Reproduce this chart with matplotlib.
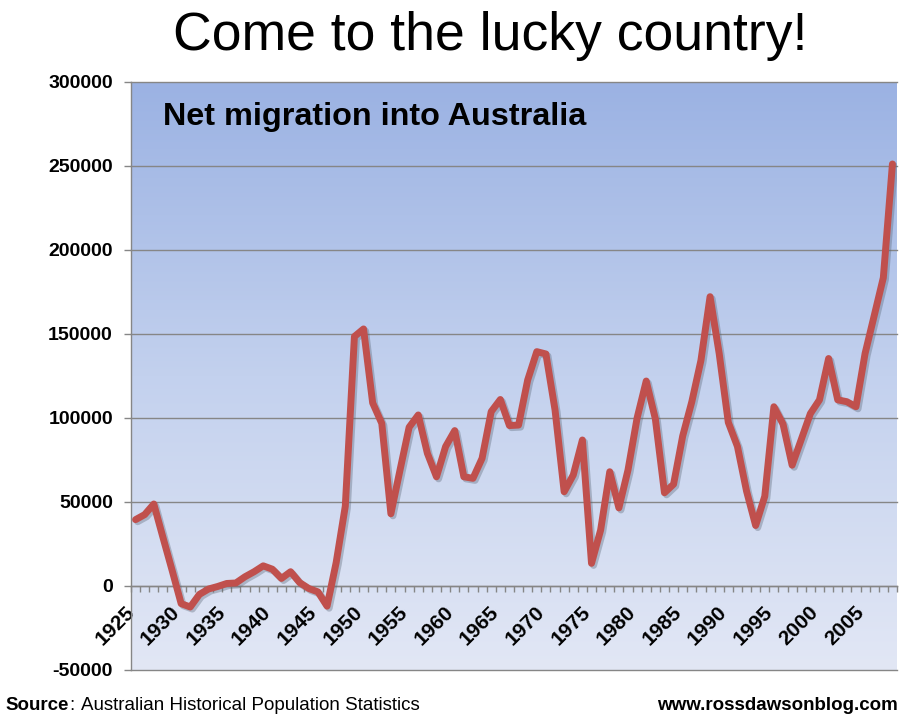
import matplotlib
matplotlib.use("Agg")
import matplotlib.pyplot as plt
import matplotlib.patheffects as pe
import matplotlib.transforms as mtransforms
import numpy as np
from matplotlib.colors import LinearSegmentedColormap

# ---- data ----
years = list(range(1925, 2009))
net_migration = [
    39500, 42500, 48800, 29000, 9500, -10500, -12500, -5000, -1800, -300,
    1500, 1800, 5500, 8500, 12000, 10000, 4500, 8500, 2000, -1500,
    -3500, -12000, 14000, 47500, 148500, 153000, 109000, 96800, 43000, 69000,
    94500, 101800, 79000, 65000, 83000, 92500, 65000, 64100, 76000, 103800,
    111000, 95500, 95800, 122600, 139500, 138100, 104800, 56100, 66100, 86900,
    13500, 33300, 68000, 46500, 69000, 100000, 122000, 99500, 55500, 60600,
    89300, 109700, 134300, 172200, 138400, 97400, 83100, 56500, 36000, 53400,
    106700, 96400, 71900, 87200, 102600, 110800, 135400, 110800, 109700, 106700,
    138400, 160900, 183500, 251200,
]
label_years = list(range(1925, 2006, 5))
y_ticks = list(range(-50000, 300001, 50000))

title = "Come to the lucky country!"
subtitle = "Net migration into Australia"

plt.rcParams['font.family'] = ['Liberation Sans', 'DejaVu Sans']

fig = plt.figure(figsize=(9.11, 7.19), dpi=100)
fig.patch.set_facecolor('white')
ax = fig.add_axes([131/911, 1-670/719, 766/911, 588/719])

x0, x1 = years[0] - 0.5, years[-1] + 0.5
y0, y1 = y_ticks[0], y_ticks[-1]

# gradient background
cmap = LinearSegmentedColormap.from_list('bg', ['#e2e7f5', '#c3d1ee', '#9bb2e3'])
grad = np.linspace(0, 1, 256).reshape(-1, 1)
ax.imshow(grad, cmap=cmap, origin='lower', aspect='auto',
          extent=[x0, x1, y0, y1], zorder=0, interpolation='bicubic')
ax.set_facecolor('none')

ax.set_xlim(x0, x1)
ax.set_ylim(y0, y1)

# grid lines
for yv in y_ticks:
    ax.axhline(yv, color='#868686', lw=1.0, zorder=1, clip_on=False)

ax.plot(years, net_migration, color='#c0504d', lw=5.0, zorder=3,
        solid_joinstyle='round', solid_capstyle='round',
        path_effects=[pe.SimpleLineShadow(offset=(1.5, -1.5), shadow_color='#556070', alpha=0.35),
                      pe.Normal()])

# spines
for s in ['top', 'right']:
    ax.spines[s].set_visible(False)
ax.spines['left'].set_color('#868686')
ax.spines['left'].set_linewidth(1.0)
ax.spines['bottom'].set_position(('data', 0))
ax.spines['bottom'].set_color('#868686')
ax.spines['bottom'].set_linewidth(1.0)

# y ticks
ax.set_yticks(y_ticks)
ax.set_yticklabels([str(v) for v in y_ticks], fontsize=14, fontweight='bold')
ax.tick_params(axis='y', direction='out', length=5, width=1, color='#868686', pad=8)

# x ticks: minor marks at category boundaries, labels at years
ax.set_xticks(label_years)
ax.set_xticklabels([str(v) for v in label_years], fontsize=15, fontweight='bold',
                   rotation=45, ha='right', va='center', rotation_mode='anchor')
ax.tick_params(axis='x', which='major', length=0, pad=17)
shift = mtransforms.ScaledTranslation(-3/72, 0, fig.dpi_scale_trans)
for lab in ax.get_xticklabels():
    lab.set_transform(lab.get_transform() + shift)
ax.set_xticks(np.arange(x0, x1 + 0.01, 1.0), minor=True)
ax.tick_params(axis='x', which='minor', direction='out', length=4.5, width=1, color='#868686')

# texts
fig.text(490/911, 1-36/719, title, fontsize=38.5, ha='center', va='center')
ax.text(163/911, 1-117/719, subtitle, transform=fig.transFigure, fontsize=23.3,
        fontweight='bold', ha='left', va='center', zorder=5)

src = fig.text(5/911, 1-705/719, "Source", fontsize=13.5, fontweight='bold', ha='left', va='center')
fig.canvas.draw()
bb = src.get_window_extent()
fig.text((bb.x1 + 0.5) / fig.bbox.width, 1-705/719, ":", fontsize=13.5, ha='left', va='center')
fig.text(81/911, 1-705/719, "Australian Historical Population Statistics",
         fontsize=13.5, ha='left', va='center')
fig.text(898/911, 1-705/719, "www.rossdawsonblog.com", fontsize=13.5, fontweight='bold',
         ha='right', va='center')

fig.savefig('out.png', dpi=100, facecolor='white')
